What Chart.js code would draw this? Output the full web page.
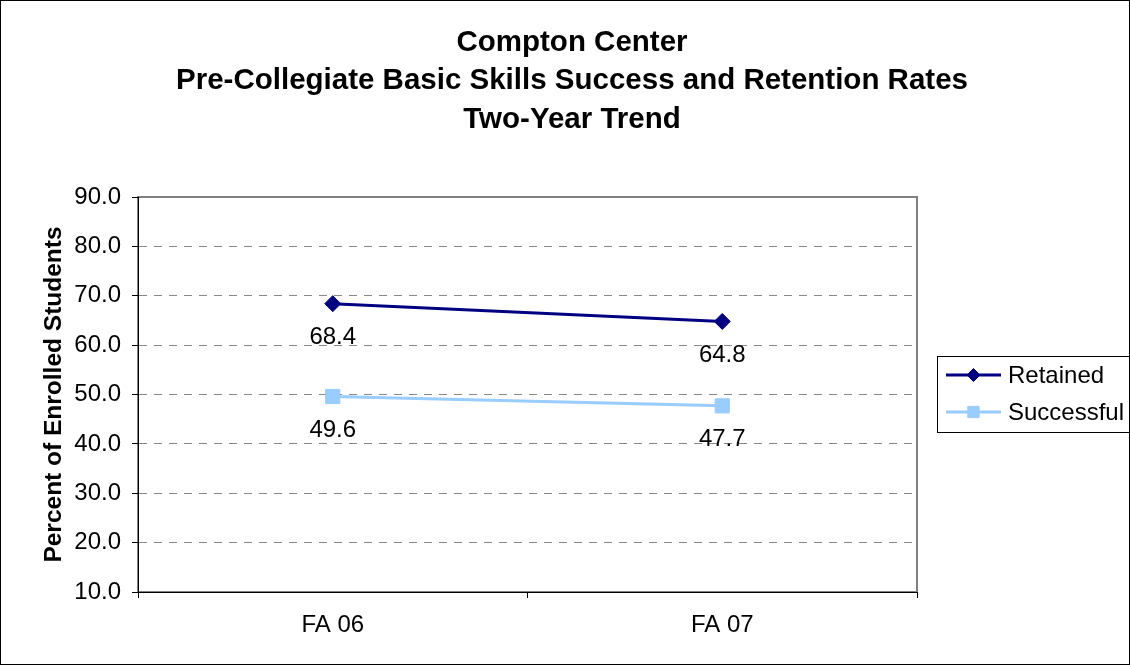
<!DOCTYPE html>
<html>
<head>
<meta charset="utf-8">
<script src="https://cdn.jsdelivr.net/npm/chart.js@4/dist/chart.umd.min.js"></script>
<style>
    body { margin: 0; background: #fff; }
    canvas { display: block; }
</style>
</head>
<body>
<canvas id="trendChart" width="1130" height="665"></canvas>
<script>
var terms = ['FA 06', 'FA 07'];
var retained = [68.4, 64.8];
var successful = [49.6, 47.7];
var yTicks = [10, 20, 30, 40, 50, 60, 70, 80, 90];
var titleLines = ['Compton Center', 'Pre-Collegiate Basic Skills Success and Retention Rates', 'Two-Year Trend'];

var FONT = '"Liberation Sans", Arial, sans-serif';

// title, frame, plot border, data labels and legend
var decorPlugin = {
    id: 'decor',
    beforeDraw: function (chart) {
        var ctx = chart.ctx;
        var a = chart.chartArea;
        ctx.save();
        ctx.strokeStyle = '#808080';
        ctx.lineWidth = 2;
        ctx.strokeRect(a.left, a.top, a.right - a.left, a.bottom - a.top);
        ctx.restore();
    },
    afterDatasetsDraw: function (chart) {
        var ctx = chart.ctx;
        ctx.save();
        ctx.font = '24px ' + FONT;
        ctx.fillStyle = '#000';
        ctx.textAlign = 'center';
        ctx.textBaseline = 'middle';
        chart.data.datasets.forEach(function (ds, i) {
            var meta = chart.getDatasetMeta(i);
            meta.data.forEach(function (pt, j) {
                ctx.fillText(ds.data[j].toFixed(1), pt.x, pt.y + 34);
            });
        });
        ctx.restore();
    },
    afterDraw: function (chart) {
        var ctx = chart.ctx;
        ctx.save();

        ctx.fillStyle = '#000';
        ctx.textAlign = 'center';
        ctx.textBaseline = 'middle';
        ctx.font = 'bold 29.5px ' + FONT;
        var ys = [43, 81, 120];
        for (var i = 0; i < titleLines.length; i++) {
            ctx.fillText(titleLines[i], 572, ys[i]);
        }

        ctx.strokeStyle = '#000';
        ctx.lineWidth = 1;
        ctx.strokeRect(0.5, 0.5, 1129, 664);

        // legend
        ctx.strokeRect(937.5, 356.5, 192, 76);
        var rowY = [375, 412];
        ctx.font = '24px ' + FONT;
        ctx.textAlign = 'left';
        chart.data.datasets.forEach(function (ds, i) {
            var y = rowY[i];
            ctx.strokeStyle = ds.borderColor;
            ctx.lineWidth = 3;
            ctx.beginPath();
            ctx.moveTo(946, y);
            ctx.lineTo(1001, y);
            ctx.stroke();
            ctx.fillStyle = ds.backgroundColor;
            ctx.strokeStyle = ds.borderColor;
            ctx.lineWidth = 1;
            Chart.helpers.drawPoint(ctx, {
                pointStyle: ds.pointStyle,
                radius: ds.pointStyle === 'rect' ? 8 : 6.5,
                borderWidth: 1,
                rotation: 0
            }, 973.5, y);
            ctx.fillStyle = '#000';
            ctx.fillText(ds.label, 1008, y + 1);
        });
        ctx.restore();
    }
};

var ctx = document.getElementById('trendChart').getContext('2d');

new Chart(ctx, {
    type: 'line',
    data: {
        labels: terms,
        datasets: [
            {
                label: 'Retained',
                data: retained,
                borderColor: '#000080',
                backgroundColor: '#000080',
                borderWidth: 3,
                pointStyle: 'rectRot',
                pointRadius: 8,
                pointBorderWidth: 1,
                tension: 0
            },
            {
                label: 'Successful',
                data: successful,
                borderColor: '#99CCFF',
                backgroundColor: '#99CCFF',
                borderWidth: 3,
                pointStyle: 'rect',
                pointRadius: 10,
                pointBorderWidth: 1,
                tension: 0
            }
        ]
    },
    options: {
        responsive: false,
        animation: false,
        layout: {
            padding: { top: 197, left: 0, right: 213, bottom: 0 }
        },
        plugins: {
            legend: { display: false },
            title: { display: false },
            tooltip: { enabled: false }
        },
        scales: {
            x: {
                offset: true,
                afterFit: function (scale) { scale.height = 73; },
                grid: {
                    offset: true,
                    drawOnChartArea: false,
                    drawTicks: true,
                    tickLength: 6,
                    tickColor: '#000'
                },
                border: { color: '#000', width: 1 },
                ticks: {
                    color: '#000',
                    padding: 13,
                    font: { family: FONT, size: 24 }
                }
            },
            y: {
                min: yTicks[0],
                max: yTicks[yTicks.length - 1],
                afterFit: function (scale) { scale.width = 138; },
                afterBuildTicks: function (scale) {
                    scale.ticks = yTicks.map(function (v) { return { value: v }; });
                },
                grid: {
                    color: function (c) {
                        if (!c.tick) return '#888';
                        var v = c.tick.value;
                        return (v === yTicks[0] || v === yTicks[yTicks.length - 1]) ? 'rgba(0,0,0,0)' : '#888';
                    },
                    lineWidth: 1,
                    drawTicks: true,
                    tickLength: 6,
                    tickColor: '#000',
                    tickBorderDash: []
                },
                border: { color: '#000', width: 1, dash: [8, 7] },
                ticks: {
                    color: '#000',
                    padding: 11,
                    font: { family: FONT, size: 24 },
                    callback: function (value) { return Number(value).toFixed(1); }
                },
                title: {
                    display: true,
                    text: 'Percent of Enrolled Students',
                    color: '#000',
                    padding: { top: 40, bottom: 0 },
                    font: { family: FONT, size: 24.5, weight: 'bold' }
                }
            }
        }
    },
    plugins: [decorPlugin]
});
</script>
</body>
</html>
